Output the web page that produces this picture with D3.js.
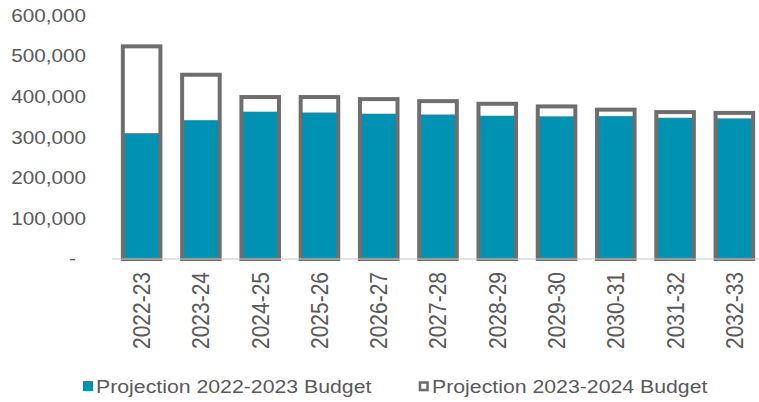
<!DOCTYPE html>
<html>
<head>
<meta charset="utf-8">
<script src="https://cdn.jsdelivr.net/npm/d3@7"></script>
<style>
  html, body { margin: 0; padding: 0; background: #fff; }
  svg { display: block; }
  text { font-family: "Liberation Sans", Arial, sans-serif; fill: #595959; }
</style>
</head>
<body>
<svg id="chart" width="759" height="402"></svg>
<script>
// Fiscal years on the x axis
const years = ["2022-23", "2023-24", "2024-25", "2025-26", "2026-27", "2027-28",
               "2028-29", "2029-30", "2030-31", "2031-32", "2032-33"];
// Projection from the 2022-2023 Budget (filled bars)
const budget2022 = [310000, 342000, 363000, 361000, 358000, 356000, 353000, 351500, 352000, 348000, 346500];
// Projection from the 2023-2024 Budget (outlined bars)
const budget2023 = [524000, 454000, 399000, 399000, 394000, 389000, 382500, 376000, 368000, 362000, 360000];
// Y axis ticks
const yTicks = [0, 100000, 200000, 300000, 400000, 500000, 600000];
const seriesNames = ["Projection 2022-2023 Budget", "Projection 2023-2024 Budget"];

const blue = "#0092B2";
const outline = "#6E6E6E";
const sx = 1.15; // text is drawn slightly wide

const svg = d3.select("#chart");

const x = d3.scaleBand().domain(years).range([112, 764]).paddingInner(0.366).paddingOuter(0.183);
const y = d3.scaleLinear().domain([0, 600000]).range([259, 15.5]);

const fmt = d3.format(",");

// Y axis labels (no axis line, no gridlines)
svg.append("g").selectAll("text").data(yTicks).join("text")
  .attr("transform", d => `translate(${d === 0 ? 76 : 86},${y(d)}) scale(${sx},1)`)
  .attr("text-anchor", "end")
  .attr("dy", "0.35em")
  .style("font-size", "18px")
  .text(d => d === 0 ? "-" : fmt(d));

// Filled bars
svg.append("g").selectAll("rect").data(years).join("rect")
  .attr("x", d => x(d))
  .attr("width", x.bandwidth())
  .attr("y", (d, i) => y(budget2022[i]))
  .attr("height", (d, i) => y(0) - y(budget2022[i]))
  .attr("fill", blue);

// Outlined bars drawn over them
svg.append("g").selectAll("rect").data(years).join("rect")
  .attr("x", d => x(d))
  .attr("width", x.bandwidth())
  .attr("y", (d, i) => y(budget2023[i]))
  .attr("height", (d, i) => y(0) - y(budget2023[i]))
  .attr("fill", "none")
  .attr("stroke", outline)
  .attr("stroke-width", 4);

// Category axis line
svg.append("line")
  .attr("x1", x.range()[0]).attr("x2", x.range()[1])
  .attr("y1", y(0)).attr("y2", y(0))
  .attr("stroke", "#C8C8C8").attr("stroke-width", 1.2);

// Rotated category labels
svg.append("g").selectAll("text").data(years).join("text")
  .attr("transform", d => `translate(${x(d) + x.bandwidth() / 2},${y(0) + 13}) scale(${sx},1) rotate(-90)`)
  .attr("text-anchor", "end")
  .attr("dy", "0.35em")
  .style("font-size", "21px")
  .text(d => d);

// Legend
const legend = svg.append("g");
legend.append("rect").attr("x", 83).attr("y", 381).attr("width", 10).attr("height", 10).attr("fill", blue);
legend.append("text").attr("transform", `translate(96,393) scale(${sx},1)`)
  .style("font-size", "18.5px").text(seriesNames[0]);
legend.append("rect").attr("x", 420).attr("y", 382.5).attr("width", 7.5).attr("height", 7.5)
  .attr("fill", "#fff").attr("stroke", outline).attr("stroke-width", 2.6);
legend.append("text").attr("transform", `translate(432,393) scale(${sx},1)`)
  .style("font-size", "18.5px").text(seriesNames[1]);
</script>
</body>
</html>
